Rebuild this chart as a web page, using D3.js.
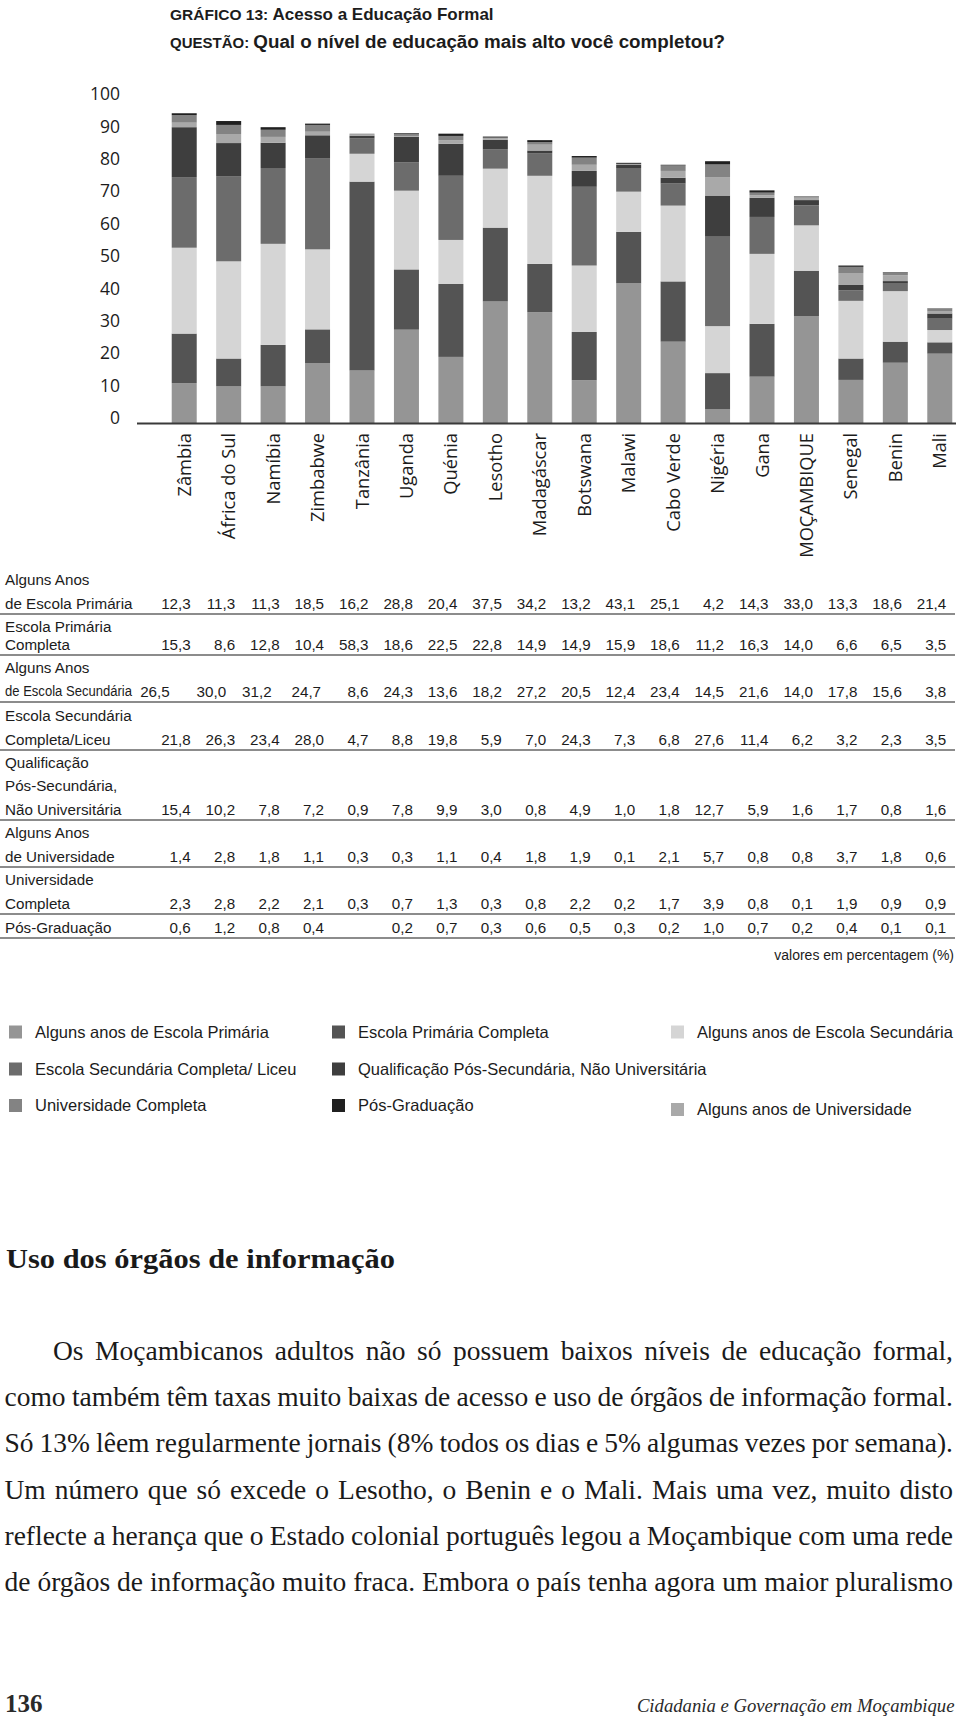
<!DOCTYPE html>
<html>
<head>
<meta charset="utf-8">
<script src="https://cdn.jsdelivr.net/npm/d3@7"></script>
<style>
  html, body { margin: 0; padding: 0; background: #fff; }
  svg { display: block; }
</style>
</head>
<body>
<svg id="chart" width="960" height="1718"></svg>
<script>
// ---------------- DATA ----------------
const countries = ["Zâmbia","África do Sul","Namíbia","Zimbabwe","Tanzânia","Uganda","Quénia","Lesotho","Madagáscar","Botswana","Malawi","Cabo Verde","Nigéria","Gana","MOÇAMBIQUE","Senegal","Benin","Mali"];

const primariaAlguns      = [12.3,11.3,11.3,18.5,16.2,28.8,20.4,37.5,34.2,13.2,43.1,25.1,4.2,14.3,33.0,13.3,18.6,21.4];
const primariaCompleta    = [15.3,8.6,12.8,10.4,58.3,18.6,22.5,22.8,14.9,14.9,15.9,18.6,11.2,16.3,14.0,6.6,6.5,3.5];
const secundariaAlguns    = [26.5,30.0,31.2,24.7,8.6,24.3,13.6,18.2,27.2,20.5,12.4,23.4,14.5,21.6,14.0,17.8,15.6,3.8];
const secundariaCompleta  = [21.8,26.3,23.4,28.0,4.7,8.8,19.8,5.9,7.0,24.3,7.3,6.8,27.6,11.4,6.2,3.2,2.3,3.5];
const posSecundaria       = [15.4,10.2,7.8,7.2,0.9,7.8,9.9,3.0,0.8,4.9,1.0,1.8,12.7,5.9,1.6,1.7,0.8,1.6];
const universidadeAlguns  = [1.4,2.8,1.8,1.1,0.3,0.3,1.1,0.4,1.8,1.9,0.1,2.1,5.7,0.8,0.8,3.7,1.8,0.6];
const universidadeCompleta= [2.3,2.8,2.2,2.1,0.3,0.7,1.3,0.3,0.8,2.2,0.2,1.7,3.9,0.8,0.1,1.9,0.9,0.9];
const posGraduacao        = [0.6,1.2,0.8,0.4,null,0.2,0.7,0.3,0.6,0.5,0.3,0.2,1.0,0.7,0.2,0.4,0.1,0.1];

const seriesKeys = ["primariaAlguns","primariaCompleta","secundariaAlguns","secundariaCompleta","posSecundaria","universidadeAlguns","universidadeCompleta","posGraduacao"];
const seriesValues = [primariaAlguns,primariaCompleta,secundariaAlguns,secundariaCompleta,posSecundaria,universidadeAlguns,universidadeCompleta,posGraduacao];

const tableRowLabels = [
  ["Alguns Anos","de Escola Primária"],
  ["Escola Primária","Completa"],
  ["Alguns Anos","de Escola Secundária"],
  ["Escola Secundária","Completa/Liceu"],
  ["Qualificação","Pós-Secundária,","Não Universitária"],
  ["Alguns Anos","de Universidade"],
  ["Universidade","Completa"],
  ["Pós-Graduação"]
];

const legendLabels = ["Alguns anos de Escola Primária","Escola Primária Completa","Alguns anos de Escola Secundária","Escola Secundária Completa/ Liceu","Qualificação Pós-Secundária, Não Universitária","Alguns anos de Universidade","Universidade Completa","Pós-Graduação"];

const yTicks = [0,10,20,30,40,50,60,70,80,90,100];

const titleLabel1 = "GRÁFICO 13:";
const titleText1 = "Acesso a Educação Formal";
const titleLabel2 = "QUESTÃO:";
const titleText2 = "Qual o nível de educação mais alto você completou?";
const unitNote = "valores em percentagem (%)";
const sectionHeading = "Uso dos órgãos de informação";
const paragraphLines = [
  "Os Moçambicanos adultos não só possuem baixos níveis de educação formal,",
  "como também têm taxas muito baixas de acesso e uso de órgãos de informação formal.",
  "Só 13% lêem regularmente jornais (8% todos os dias e 5% algumas vezes por semana).",
  "Um número que só excede o Lesotho, o Benin e o Mali. Mais uma vez, muito disto",
  "reflecte a herança que o Estado colonial português legou a Moçambique com uma rede",
  "de órgãos de informação muito fraca. Embora o país tenha agora um maior pluralismo"
];
const pageNumber = "136";
const runningFooter = "Cidadania e Governação em Moçambique";

// ---------------- STYLE ----------------
const colors = ["#959595","#545454","#d5d5d5","#6c6c6c","#3e3e3e","#a9a9a9","#838383","#202020"];
const sansUI = "'Open Sans', sans-serif";
const sansT = "'Liberation Sans', Arial, sans-serif";
const serif = "'Liberation Serif', 'Times New Roman', serif";
const ink = "#1c1c1c";

const svg = d3.select("#chart");
svg.append("rect").attr("width",960).attr("height",1718).attr("fill","#fff");

// ---------------- TITLE ----------------
const t1 = svg.append("text").attr("x",170).attr("y",20).attr("fill",ink)
  .attr("font-family",sansT).attr("font-weight","bold");
t1.append("tspan").attr("font-size",15.5).text(titleLabel1 + " ");
t1.append("tspan").attr("font-size",17).text(titleText1);
const t2 = svg.append("text").attr("x",170).attr("y",48).attr("fill",ink)
  .attr("font-family",sansT).attr("font-weight","bold");
t2.append("tspan").attr("font-size",15).text(titleLabel2 + " ");
t2.append("tspan").attr("font-size",18.8).text(titleText2);

// ---------------- CHART ----------------
const data = countries.map((c,i) => {
  const o = {country:c};
  seriesKeys.forEach((k,j) => o[k] = seriesValues[j][i] == null ? 0 : seriesValues[j][i]);
  return o;
});
const stacked = d3.stack().keys(seriesKeys)(data);

const x = d3.scaleBand().domain(countries).range([162, 962]).paddingInner(0.4375).paddingOuter(0.21875);
const y = d3.scaleLinear().domain([0,100]).range([423, 99]);

const gBars = svg.append("g");
gBars.selectAll("g.series").data(stacked).join("g")
  .attr("class","series")
  .attr("fill",(d,i)=>colors[i])
  .selectAll("rect").data(d=>d).join("rect")
  .attr("x", d => x(d.data.country))
  .attr("width", x.bandwidth())
  .attr("y", d => y(d[1]))
  .attr("height", d => Math.max(0, y(d[0]) - y(d[1])));

// Y axis labels (no line)
const yAxis = svg.append("g").attr("transform","translate(120,-5)")
  .call(d3.axisLeft(y).tickValues(yTicks).tickSize(0).tickPadding(0));
yAxis.select(".domain").remove();
yAxis.selectAll("text").attr("font-family",sansUI).attr("font-size",17.5).attr("fill",ink);

// baseline
svg.append("line").attr("x1",137).attr("x2",956).attr("y1",y(0)+0.5).attr("y2",y(0)+0.5)
  .attr("stroke","#3a3a3a").attr("stroke-width",2);

// X axis labels
const xAxis = svg.append("g").attr("transform",`translate(0,${y(0)})`)
  .call(d3.axisBottom(x).tickSize(0).tickPadding(0));
xAxis.select(".domain").remove();
xAxis.selectAll("text")
  .attr("transform","rotate(-90)")
  .attr("text-anchor","end")
  .attr("x",-10).attr("y",0).attr("dy","0.36em")
  .attr("font-family",sansUI).attr("font-size",18.3).attr("fill",ink);

// ---------------- TABLE ----------------
const rowLines = [614, 655, 702, 750, 820, 867, 914, 938];
// squeeze of the first cells of the "Alguns Anos de Escola Secundária" row, as typeset in the source
const cellShift = {2: [-21, -9, -8, -3]};
const fmt = v => v == null ? "" : v.toFixed(1).replace(".", ",");
const gTable = svg.append("g").attr("font-family",sansT).attr("font-size",15.2).attr("fill",ink);
tableRowLabels.forEach((lines, r) => {
  const base = rowLines[r] - 5.5;
  const step = r === 1 ? 17.5 : 23.5;
  lines.forEach((ln, k) => {
    const t = gTable.append("text").attr("x",5).attr("y", base - (lines.length-1-k)*step).text(ln);
    if (r === 2 && k === 1) {
      const w = t.node().getComputedTextLength();
      const s = 127 / w;
      t.attr("x", 5 / s).attr("transform", `scale(${s},1)`);
    }
  });
  gTable.selectAll(null).data(seriesValues[r]).join("text")
    .attr("x",(d,i)=> x(countries[i]) + x.bandwidth() - 6 + ((cellShift[r] && cellShift[r][i]) || 0))
    .attr("y", base)
    .attr("text-anchor","end")
    .text(d => fmt(d));
  svg.append("line").attr("x1",0).attr("x2",955).attr("y1",rowLines[r]).attr("y2",rowLines[r])
    .attr("stroke","#8c8c8c").attr("stroke-width",2);
});
gTable.append("text").attr("x",954).attr("y",960).attr("text-anchor","end").attr("font-size",14).text(unitNote);

// ---------------- LEGEND ----------------
const legendSeries = [0,1,2,3,4,5,6,7];
const legendPos = [[0,0],[1,0],[2,0],[0,1],[1,1],[2,2],[0,2],[1,2]];
const colX = [9, 332, 671];
const rowY = [1037.5, 1074.5, 1111];
const gLeg = svg.append("g").attr("font-family",sansT).attr("font-size",16.5).attr("fill",ink);
legendLabels.forEach((lab,i) => {
  const [c,r] = legendPos[i];
  const by = rowY[r] + (c===2 && r===2 ? 4 : 0);
  gLeg.append("rect").attr("x",colX[c]).attr("y",by-12).attr("width",13).attr("height",13)
    .attr("fill",colors[legendSeries[i]]);
  gLeg.append("text").attr("x",colX[c]+26).attr("y",by).text(lab);
});

// ---------------- TEXT SECTION ----------------
svg.append("text").attr("x",6).attr("y",1268).attr("font-family",serif)
  .attr("font-weight","bold").attr("font-size",28).attr("fill","#1a1a1a")
  .attr("textLength",389).attr("lengthAdjust","spacingAndGlyphs")
  .text(sectionHeading);

// justified paragraph: each word placed as its own tspan
const gPara = svg.append("g").attr("font-family",serif).attr("fill","#1a1a1a");
const paraBase = [1360, 1406, 1452, 1498.5, 1545, 1591];
const baseFs = 27.5;
paragraphLines.forEach((ln,i) => {
  const left = i === 0 ? 53 : 4.5;
  const right = 953;
  const target = right - left;
  const words = ln.split(" ");
  const t = gPara.append("text").attr("y", paraBase[i]).attr("font-size", baseFs);
  const probe = t.append("tspan");
  const measure = (fs) => {
    t.attr("font-size", fs);
    const ws = words.map(w => { probe.text(w); return probe.node().getComputedTextLength(); });
    probe.text(" ");
    const sp = probe.node().getComputedTextLength();
    return {ws, sp};
  };
  let fs = baseFs;
  let m = measure(fs);
  let natural = d3.sum(m.ws) + m.sp * (words.length - 1);
  if (natural > target) { fs = fs * target / natural * 0.995; m = measure(fs); }
  probe.remove();
  const gap = (target - d3.sum(m.ws)) / (words.length - 1);
  let cx = left;
  words.forEach((w, k) => {
    t.append("tspan").attr("x", cx).text(w);
    cx += m.ws[k] + gap;
  });
});

svg.append("text").attr("x",5).attr("y",1712).attr("font-family",serif).attr("font-weight","bold")
  .attr("font-size",25).attr("fill","#2a2a2a").text(pageNumber);
const footer = svg.append("text").attr("y",1712)
  .attr("font-family",serif).attr("font-style","italic").attr("font-size",21).attr("fill","#2a2a2a")
  .text(runningFooter);
{
  const w = footer.node().getComputedTextLength();
  const fs = 21 * Math.min(1, 318 / w);
  footer.attr("font-size", fs);
  const w2 = footer.node().getComputedTextLength();
  footer.attr("x", 954.5 - w2);
}
</script>
</body>
</html>
